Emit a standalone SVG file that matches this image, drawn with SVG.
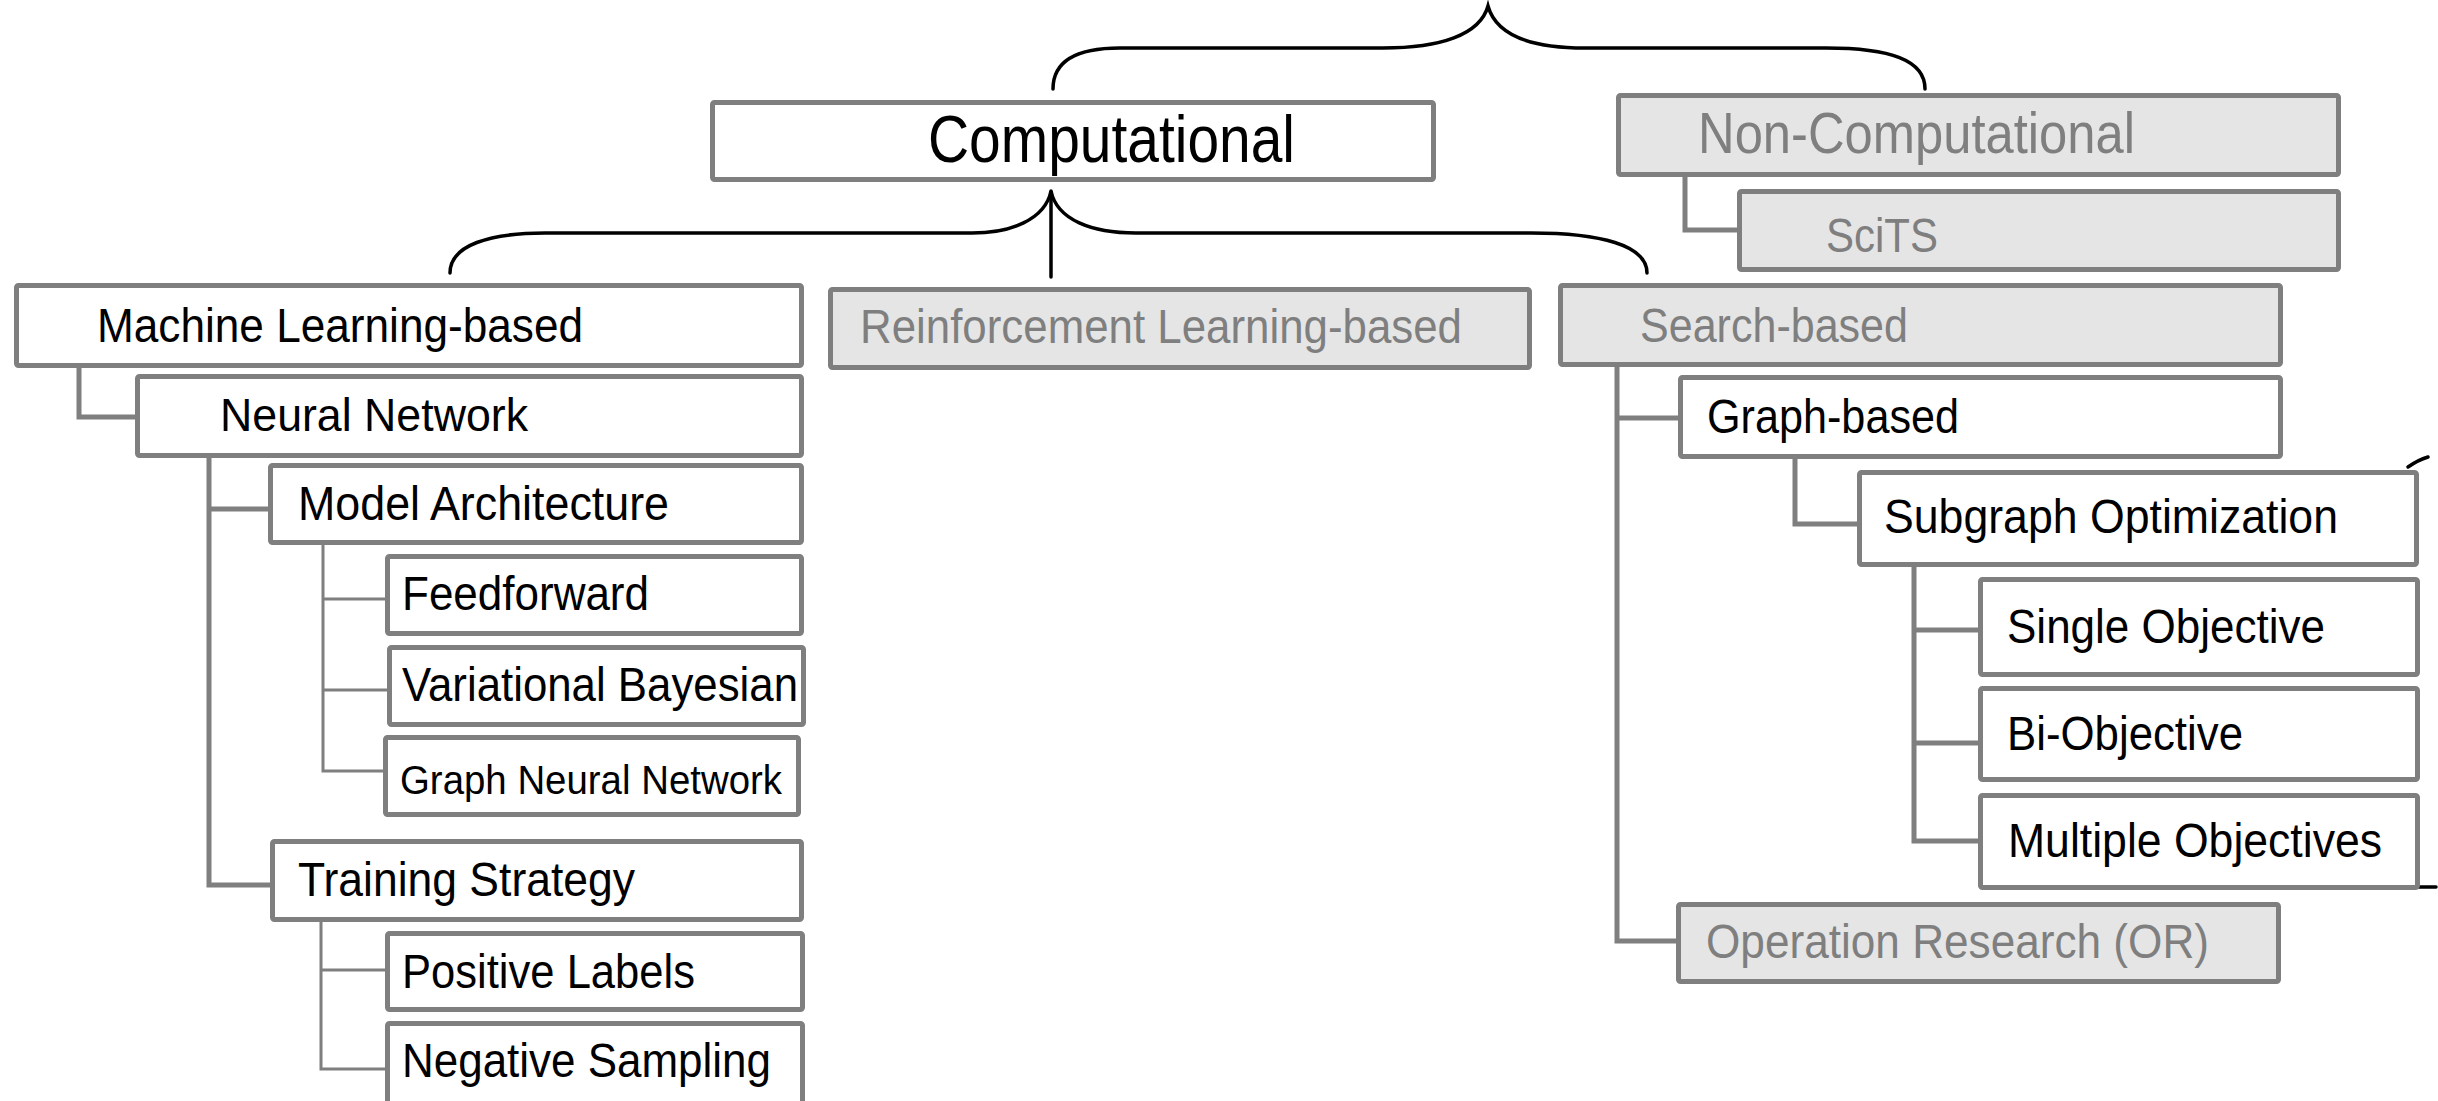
<svg xmlns="http://www.w3.org/2000/svg" width="2438" height="1101" viewBox="0 0 2438 1101">
<style>
.box{fill:#ffffff;stroke:#7f7f7f;stroke-width:5}
.gbox{fill:#e5e5e5;stroke:#7f7f7f;stroke-width:5}
.t{font-family:"Liberation Sans",Arial,sans-serif;font-size:48px;fill:#000}
.gt{fill:#7f7f7f}
.ln{fill:none;stroke:#7f7f7f;stroke-width:5}
.thin{fill:none;stroke:#7f7f7f;stroke-width:3}
.br{fill:none;stroke:#000;stroke-width:3.5;stroke-linecap:round}
</style>
<rect width="2438" height="1101" fill="#ffffff"/>
<g id="connectors">
<path class="br" d="M1053 89 C1053 62 1075 48 1120 48 L1383 48 C1440 48 1480 35 1488 6 C1496 35 1530 48 1585 48 L1826 48 C1890 48 1925 60 1925 89"/>
<path class="br" d="M450 273 C450 245 490 233 545 233 L972 233 C1010 233 1045 220 1051 191 C1057 220 1092 233 1136 233 L1531 233 C1600 233 1647 245 1647 273"/>
<path class="br" d="M1051 191 V277"/>
<path class="br" d="M2408 467 Q2418 460 2428 457"/>
<path class="br" d="M2417 887 H2436"/>
<path class="ln" d="M1685 177 V230 H1739"/>
<path class="ln" d="M79 368 V417 H137"/>
<path class="ln" d="M209 458 V885 H272 M209 509 H270"/>
<path class="thin" d="M323 545 V771 H385 M323 599 H387 M323 690 H389"/>
<path class="thin" d="M321 922 V1069 H387 M321 970 H387"/>
<path class="ln" d="M1617 367 V941 H1678 M1617 418 H1680"/>
<path class="ln" d="M1795 459 V524 H1859"/>
<path class="ln" d="M1914 567 V841 H1980 M1914 630 H1980 M1914 743 H1980"/>
</g>
<g id="computational"><rect class="box" x="712.5" y="102.5" width="721" height="77" rx="2"/><text class="t" x="928" y="162" font-size="66" style="font-size:66px" textLength="367" lengthAdjust="spacingAndGlyphs">Computational</text></g>
<g id="non-computational"><rect class="gbox" x="1618.5" y="95.5" width="720" height="79" rx="2"/><text class="t gt" x="1698" y="153" style="font-size:57px" textLength="437" lengthAdjust="spacingAndGlyphs">Non-Computational</text></g>
<g id="scits"><rect class="gbox" x="1739.5" y="191.5" width="599" height="78" rx="2"/><text class="t gt" x="1826" y="252" textLength="112" lengthAdjust="spacingAndGlyphs">SciTS</text></g>
<g id="ml"><rect class="box" x="16.5" y="285.5" width="785" height="80" rx="2"/><text class="t" x="97" y="342" textLength="486" lengthAdjust="spacingAndGlyphs">Machine Learning-based</text></g>
<g id="rl"><rect class="gbox" x="830.5" y="289.5" width="699" height="78" rx="2"/><text class="t gt" x="860" y="343" textLength="602" lengthAdjust="spacingAndGlyphs">Reinforcement Learning-based</text></g>
<g id="search"><rect class="gbox" x="1560.5" y="285.5" width="720" height="79" rx="2"/><text class="t gt" x="1640" y="342" textLength="268" lengthAdjust="spacingAndGlyphs">Search-based</text></g>
<g id="nn"><rect class="box" x="137.5" y="376.5" width="664" height="79" rx="2"/><text class="t" x="220" y="431" style="font-size:46px" textLength="308" lengthAdjust="spacingAndGlyphs">Neural Network</text></g>
<g id="ma"><rect class="box" x="270.5" y="465.5" width="531" height="77" rx="2"/><text class="t" x="298" y="520" textLength="371" lengthAdjust="spacingAndGlyphs">Model Architecture</text></g>
<g id="ff"><rect class="box" x="387.5" y="556.5" width="414" height="77" rx="2"/><text class="t" x="402" y="610" textLength="247" lengthAdjust="spacingAndGlyphs">Feedforward</text></g>
<g id="vb"><rect class="box" x="389.5" y="647.5" width="414" height="77" rx="2"/><text class="t" x="402" y="701" textLength="396" lengthAdjust="spacingAndGlyphs">Variational Bayesian</text></g>
<g id="gnn"><rect class="box" x="385.5" y="737.5" width="413" height="77" rx="2"/><text class="t" x="400" y="794" style="font-size:41px" textLength="382" lengthAdjust="spacingAndGlyphs">Graph Neural Network</text></g>
<g id="ts"><rect class="box" x="272.5" y="841.5" width="529" height="78" rx="2"/><text class="t" x="298" y="896" textLength="337" lengthAdjust="spacingAndGlyphs">Training Strategy</text></g>
<g id="pl"><rect class="box" x="387.5" y="933.5" width="415" height="76" rx="2"/><text class="t" x="402" y="988" textLength="293" lengthAdjust="spacingAndGlyphs">Positive Labels</text></g>
<g id="ns"><rect class="box" x="387.5" y="1023.5" width="415" height="80" rx="2"/><text class="t" x="402" y="1077" textLength="369" lengthAdjust="spacingAndGlyphs">Negative Sampling</text></g>
<g id="gb"><rect class="box" x="1680.5" y="377.5" width="600" height="79" rx="2"/><text class="t" x="1707" y="433" textLength="252" lengthAdjust="spacingAndGlyphs">Graph-based</text></g>
<g id="so"><rect class="box" x="1859.5" y="472.5" width="557" height="92" rx="2"/><text class="t" x="1884" y="533" textLength="454" lengthAdjust="spacingAndGlyphs">Subgraph Optimization</text></g>
<g id="single"><rect class="box" x="1980.5" y="579.5" width="437" height="95" rx="2"/><text class="t" x="2007" y="643" textLength="318" lengthAdjust="spacingAndGlyphs">Single Objective</text></g>
<g id="bi"><rect class="box" x="1980.5" y="688.5" width="437" height="91" rx="2"/><text class="t" x="2007" y="750" textLength="236" lengthAdjust="spacingAndGlyphs">Bi-Objective</text></g>
<g id="multi"><rect class="box" x="1980.5" y="795.5" width="437" height="92" rx="2"/><text class="t" x="2008" y="857" textLength="374" lengthAdjust="spacingAndGlyphs">Multiple Objectives</text></g>
<g id="or"><rect class="gbox" x="1678.5" y="904.5" width="600" height="77" rx="2"/><text class="t gt" x="1706" y="958" textLength="503" lengthAdjust="spacingAndGlyphs">Operation Research (OR)</text></g>
</svg>
